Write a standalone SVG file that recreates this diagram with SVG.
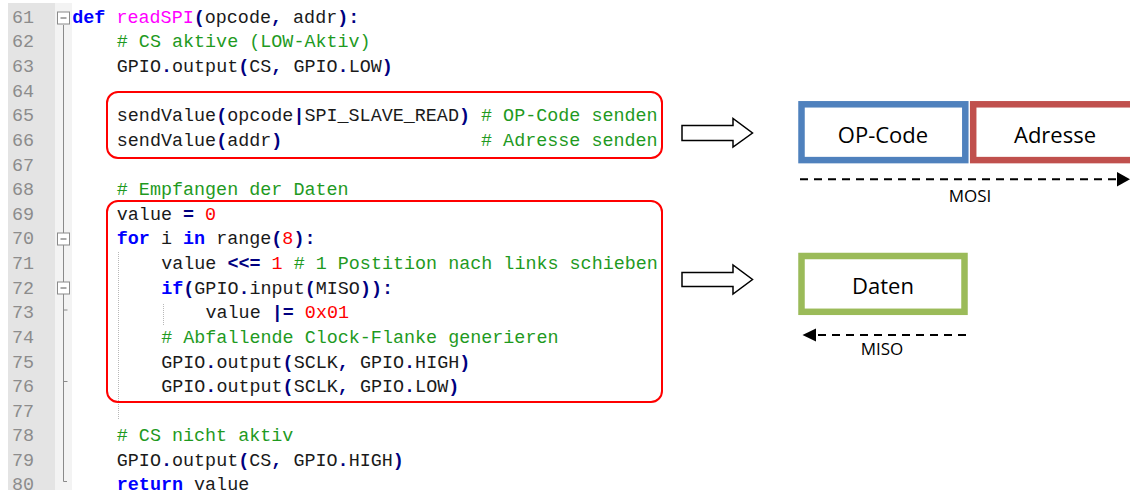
<svg xmlns="http://www.w3.org/2000/svg" width="1130" height="490" viewBox="0 0 1130 490">
<defs>
<style>
.code text{font-family:"Liberation Mono","Courier New",monospace;font-size:18.4px;fill:#1a1a1a;white-space:pre}
.ln{font-family:"Liberation Mono","Courier New",monospace;font-size:18.4px;fill:#8c8c8c}
.k{fill:#0000ff;font-weight:bold}
.f{fill:#ff00ff}
.o{fill:#000080;font-weight:bold}
.c{fill:#1f9a1f}
.n{fill:#ff0000}
.hl{fill:none;stroke:#ff0000;stroke-width:2}
.lbl{font-family:"Open Sans","Liberation Sans",sans-serif;font-size:22px;fill:#000;text-anchor:middle}
.sm{font-family:"Open Sans","Liberation Sans",sans-serif;font-size:17px;fill:#000;text-anchor:middle}
.hollow{fill:#fff;stroke:#000;stroke-width:1.5;stroke-linejoin:miter}
.dash{stroke:#000;stroke-width:2;stroke-dasharray:8 6;fill:none}
.fold{stroke:#8a8a8a;stroke-width:1;fill:none}
.guide{stroke:#b8b8b8;stroke-width:1;stroke-dasharray:1 1;fill:none}
</style>
</defs>
<rect width="1130" height="490" fill="#fff"/>
<g id="code-listing">
<rect x="8" y="3" width="47" height="487" fill="#e4e4e4"/>
<rect x="55" y="3" width="17" height="487" fill="#f3f3f3"/>
<g class="ln">
<text x="12" y="22.7">61</text>
<text x="12" y="47.3">62</text>
<text x="12" y="71.9">63</text>
<text x="12" y="96.6">64</text>
<text x="12" y="121.2">65</text>
<text x="12" y="145.8">66</text>
<text x="12" y="170.5">67</text>
<text x="12" y="195.1">68</text>
<text x="12" y="219.7">69</text>
<text x="12" y="244.4">70</text>
<text x="12" y="269">71</text>
<text x="12" y="293.6">72</text>
<text x="12" y="318.3">73</text>
<text x="12" y="342.9">74</text>
<text x="12" y="367.5">75</text>
<text x="12" y="392.2">76</text>
<text x="12" y="416.8">77</text>
<text x="12" y="441.4">78</text>
<text x="12" y="466">79</text>
<text x="12" y="489.5">80</text>
</g>
<path class="fold" d="M63.5,25 V481.5 H67 M63.5,310 H67.5 M63.5,381.5 H67.5"/>
<g>
<rect x="57.5" y="12" width="12" height="12" fill="#fff" stroke="#8a8a8a"/>
<path d="M60.5,18 H66.5" stroke="#555" stroke-width="1"/>
<rect x="57.5" y="233" width="12" height="12" fill="#fff" stroke="#8a8a8a"/>
<path d="M60.5,239 H66.5" stroke="#555" stroke-width="1"/>
<rect x="57.5" y="282" width="12" height="12" fill="#fff" stroke="#8a8a8a"/>
<path d="M60.5,288 H66.5" stroke="#555" stroke-width="1"/>
</g>
<path class="guide" d="M118.5,252 V420 M163.5,304 V326"/>
<g class="code">
<text x="72.3" y="22.7"><tspan class="k">def</tspan> <tspan class="f">readSPI</tspan><tspan class="o">(</tspan>opcode<tspan class="o">,</tspan> addr<tspan class="o">):</tspan></text>
<text x="116.8" y="47.3"><tspan class="c"># CS aktive (LOW-Aktiv)</tspan></text>
<text x="116.8" y="71.9">GPIO<tspan class="o">.</tspan>output<tspan class="o">(</tspan>CS<tspan class="o">,</tspan> GPIO<tspan class="o">.</tspan>LOW<tspan class="o">)</tspan></text>
<text x="116.8" y="121.2">sendValue<tspan class="o">(</tspan>opcode<tspan class="o">|</tspan>SPI_SLAVE_READ<tspan class="o">)</tspan> <tspan class="c"># OP-Code senden</tspan></text>
<text x="116.8" y="145.8">sendValue<tspan class="o">(</tspan>addr<tspan class="o">)</tspan>                  <tspan class="c"># Adresse senden</tspan></text>
<text x="116.8" y="195.1"><tspan class="c"># Empfangen der Daten</tspan></text>
<text x="116.8" y="219.7">value <tspan class="o">=</tspan> <tspan class="n">0</tspan></text>
<text x="116.8" y="244.4"><tspan class="k">for</tspan> i <tspan class="k">in</tspan> range<tspan class="o">(</tspan><tspan class="n">8</tspan><tspan class="o">):</tspan></text>
<text x="161.2" y="269">value <tspan class="o">&lt;&lt;=</tspan> <tspan class="n">1</tspan> <tspan class="c"># 1 Postition nach links schieben</tspan></text>
<text x="161.2" y="293.6"><tspan class="k">if</tspan><tspan class="o">(</tspan>GPIO<tspan class="o">.</tspan>input<tspan class="o">(</tspan>MISO<tspan class="o">)):</tspan></text>
<text x="205.5" y="318.3">value <tspan class="o">|=</tspan> <tspan class="n">0x01</tspan></text>
<text x="161.2" y="342.9"><tspan class="c"># Abfallende Clock-Flanke generieren</tspan></text>
<text x="161.2" y="367.5">GPIO<tspan class="o">.</tspan>output<tspan class="o">(</tspan>SCLK<tspan class="o">,</tspan> GPIO<tspan class="o">.</tspan>HIGH<tspan class="o">)</tspan></text>
<text x="161.2" y="392.2">GPIO<tspan class="o">.</tspan>output<tspan class="o">(</tspan>SCLK<tspan class="o">,</tspan> GPIO<tspan class="o">.</tspan>LOW<tspan class="o">)</tspan></text>
<text x="116.8" y="441.4"><tspan class="c"># CS nicht aktiv</tspan></text>
<text x="116.8" y="466">GPIO<tspan class="o">.</tspan>output<tspan class="o">(</tspan>CS<tspan class="o">,</tspan> GPIO<tspan class="o">.</tspan>HIGH<tspan class="o">)</tspan></text>
<text x="116.8" y="489.5"><tspan class="k">return</tspan> value</text>
</g>
</g>
<g id="highlight-send">
<rect class="hl" x="107" y="92" width="555" height="66" rx="11"/>
</g>
<g id="highlight-receive">
<rect class="hl" x="107" y="201" width="555" height="201" rx="11"/>
</g>
<g id="opcode">
<rect x="801.5" y="104.3" width="163.8" height="55.8" fill="#fff" stroke="#4f81bd" stroke-width="6.5"/>
<text class="lbl" x="883" y="142.5">OP-Code</text>
</g>
<g id="adresse">
<rect x="973.2" y="104.3" width="170" height="55.8" fill="#fff" stroke="#c0504d" stroke-width="6.5"/>
<text class="lbl" x="1055" y="142.5">Adresse</text>
</g>
<g id="daten">
<rect x="801.5" y="256" width="163" height="55.8" fill="#fff" stroke="#9bbb59" stroke-width="6.5"/>
<text class="lbl" x="883" y="294">Daten</text>
</g>
<g id="connectors">
<path class="hollow" d="M682,125.5 H733 V118.5 L752.5,133 L733,147 V140.5 H682 Z"/>
<path class="hollow" d="M682,272.5 H733 V265 L752.5,279.5 L733,294 V286.5 H682 Z"/>
<path class="dash" d="M800,179.3 H1118"/>
<polygon points="1117,172 1130,179.3 1117,186.6" fill="#000"/>
<path class="dash" d="M966,335 H816"/>
<polygon points="816,328.5 802.5,335 816,341.5" fill="#000"/>
</g>
<g id="labels">
<text class="sm" x="970" y="201.5">MOSI</text>
<text class="sm" x="882" y="355">MISO</text>
</g>
</svg>
